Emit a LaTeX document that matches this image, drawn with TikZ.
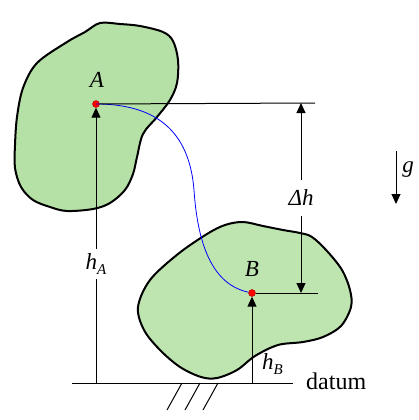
\documentclass[tikz,border=0pt]{standalone}
\usepackage{fontspec}
\setmainfont{Liberation Serif}
\usetikzlibrary{arrows.meta}
\definecolor{blobA}{RGB}{181,224,166}
\definecolor{blobB}{RGB}{190,228,176}
\tikzset{
  blob/.style={draw=black, line width=2pt, line join=round},
  dim/.style={draw=black, line width=1pt},
  tip/.style={-{Triangle[width=9pt,length=10pt]}},
  pt/.style={circle, fill=red, draw=red!70!black, line width=0.4pt, inner sep=0pt, minimum size=7pt},
  lbl/.style={font=\fontsize{23}{23}\selectfont\itshape, inner sep=1pt},
  gap/.style={font=\fontsize{23}{23}\selectfont\itshape, inner sep=1pt, minimum height=30pt, minimum width=20pt},
}
\newcommand{\subx}[1]{\raisebox{-0.22em}{\fontsize{15}{15}\selectfont #1}}
\begin{document}
\begin{tikzpicture}[x=1pt,y=-1pt]
\useasboundingbox (0,0) rectangle (418,420);
% blobs
\draw[blob, fill=blobA] plot[smooth cycle, tension=0.55] coordinates {
 (100,23) (120,24) (140,26) (163,32) (173,41) (178,60) (177,83) (170,100)
 (157,117) (143,134) (137,157) (133,174) (125,190) (110,203) (93,209)
 (67,211) (50,207) (33,200) (21,187) (15,168) (15,145) (17,117) (23,88)
 (37,63) (67,42) (85,32)};
\draw[blob, fill=blobB] plot[smooth cycle, tension=0.55] coordinates {
 (243,222) (263,226) (283,230) (300,233) (312,237) (327,251) (342,270)
 (350,290) (351,307) (341,326) (323,337) (303,342) (278,345) (255,356)
 (237,370) (217,378) (201,377) (180,367) (160,350) (144,330) (138,307)
 (150,280) (178,254) (207,234) (225,225)};
% points
\node[pt] (A) at (96,104) {};
\node[pt] (B) at (252,293) {};
\node[lbl] (Alab) at (97,80) {A};
\node[lbl] (Blab) at (252,269) {B};
% coordinates
\coordinate (dL) at (72,383);
\coordinate (dR) at (293,383);
\coordinate (hAbase) at (96,383);
\coordinate (hBbase) at (252,383);
\coordinate (Aend) at (315,103);
\coordinate (Bend) at (318,293);
\coordinate (dhTop) at (301,103);
\coordinate (dhBot) at (301,293);
\coordinate (gTop) at (396,151);
\coordinate (gBot) at (396,204);
\coordinate (h1a) at (182,383); \coordinate (h1b) at (167,410);
\coordinate (h2a) at (200,383); \coordinate (h2b) at (185,410);
\coordinate (h3a) at (218,383); \coordinate (h3b) at (203,410);
% path
\draw[blue, line width=0.8pt] (A.center) .. controls (165,104) and (190,140) .. (194,190)
  .. controls (198,250) and (215,285) .. (B);
% datum
\draw[dim] (dL) -- (dR);
\draw[dim] (h1a) -- (h1b) (h2a) -- (h2b) (h3a) -- (h3b);
\node[font=\fontsize{24}{24}\selectfont, anchor=west, inner sep=0pt] (datum) at (306,381) {datum};
% h_A
\node[gap] (hA) at (96,264) {h\subx{A}};
\draw[dim] (hAbase) -- (hA);
\draw[dim, tip] (hA) -- (A);
% h_B
\draw[dim, tip] (hBbase) -- (B);
\node[lbl, anchor=west] (hB) at (261,364) {h\subx{B}};
% horizontal refs
\draw[dim] (A) -- (Aend);
\draw[dim] (B) -- (Bend);
% Delta h
\node[gap, minimum height=36pt] (dh) at (301,198) {Δh};
\draw[dim, tip] (dh) -- (dhTop);
\draw[dim, tip] (dh) -- (dhBot);
% g
\draw[dim, tip] (gTop) -- (gBot);
\node[lbl] (g) at (408,170) {g};
\end{tikzpicture}
\end{document}
